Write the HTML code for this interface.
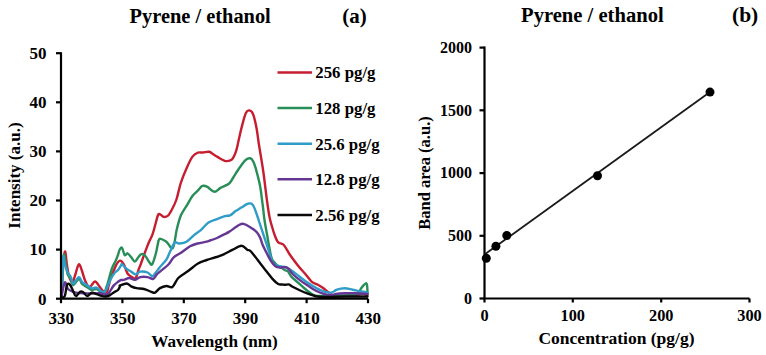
<!DOCTYPE html><html><head><meta charset="utf-8"><style>html,body{margin:0;padding:0;background:#fff;width:766px;height:355px;overflow:hidden}svg{display:block}</style></head><body><svg width="766" height="355" viewBox="0 0 766 355">
<rect width="766" height="355" fill="#fff"/>
<text x="200.2" y="22.6" font-family="Liberation Serif" font-weight="bold" font-size="20.4" text-anchor="middle">Pyrene / ethanol</text>
<text x="342.3" y="22.9" font-family="Liberation Serif" font-weight="bold" font-size="21">(a)</text>
<text x="592.4" y="22.2" font-family="Liberation Serif" font-weight="bold" font-size="20.6" text-anchor="middle">Pyrene / ethanol</text>
<text x="732" y="22.2" font-family="Liberation Serif" font-weight="bold" font-size="21.5">(b)</text>
<path d="M61.5,296.0 C61.8,290.3 62.9,269.4 63.5,262.0 C64.1,254.6 64.7,251.1 65.2,251.4 C65.8,251.7 66.2,260.2 66.8,264.0 C67.3,267.8 67.9,271.3 68.5,274.0 C69.1,276.7 69.8,278.6 70.5,280.0 C71.2,281.4 71.8,283.5 72.6,282.5 C73.4,281.5 74.5,277.0 75.5,274.0 C76.5,271.0 77.7,264.8 78.8,264.3 C79.9,263.8 81.0,268.3 82.0,271.0 C83.0,273.7 83.8,277.6 85.0,280.3 C86.2,283.0 87.8,286.8 89.5,287.0 C91.2,287.2 93.3,281.5 95.0,281.5 C96.7,281.5 98.3,285.2 99.8,287.0 C101.3,288.8 102.8,291.2 104.0,292.0 C105.2,292.8 106.2,293.0 107.0,292.0 C107.8,291.0 107.9,288.5 108.6,286.0 C109.3,283.5 110.1,279.8 111.0,277.1 C111.9,274.4 113.1,272.1 114.0,270.0 C114.9,267.9 115.5,265.9 116.5,264.3 C117.5,262.7 118.9,260.6 120.1,260.6 C121.3,260.6 122.6,262.2 123.8,264.3 C125.0,266.4 126.1,271.4 127.5,273.5 C128.9,275.6 130.6,276.4 132.0,277.1 C133.4,277.9 134.6,279.2 135.7,278.0 C136.8,276.8 137.8,271.8 138.5,269.8 C139.2,267.8 138.8,269.4 140.0,266.2 C141.2,263.0 144.1,254.7 145.6,250.7 C147.1,246.7 147.8,244.8 149.0,242.0 C150.2,239.2 151.5,237.1 152.7,233.8 C153.9,230.5 155.1,225.2 156.0,222.0 C156.9,218.8 157.5,215.7 158.3,214.5 C159.1,213.3 160.1,214.6 161.0,215.0 C161.9,215.4 162.7,216.8 163.9,216.9 C165.1,217.0 166.8,216.9 168.2,215.5 C169.6,214.1 171.0,211.2 172.4,208.5 C173.8,205.8 175.2,203.4 176.6,199.0 C178.0,194.6 179.3,187.4 181.0,182.3 C182.7,177.2 184.7,172.4 186.6,168.2 C188.5,164.0 190.4,159.5 192.3,156.9 C194.2,154.3 196.1,153.4 197.9,152.7 C199.7,152.0 201.1,152.7 203.0,152.5 C204.9,152.3 207.4,151.5 209.2,151.8 C210.9,152.1 212.1,153.7 213.5,154.5 C214.9,155.3 216.2,156.1 217.6,156.9 C219.0,157.7 220.6,158.8 222.0,159.5 C223.4,160.2 224.5,161.1 226.1,161.1 C227.7,161.1 230.0,161.3 231.7,159.7 C233.3,158.1 234.9,154.4 236.0,151.3 C237.1,148.2 237.5,145.3 238.5,141.0 C239.5,136.7 240.8,130.3 242.1,125.6 C243.3,120.9 244.8,115.3 246.0,112.8 C247.2,110.3 248.2,110.2 249.3,110.4 C250.5,110.6 251.7,110.9 252.9,113.8 C254.1,116.7 255.5,122.8 256.5,128.0 C257.5,133.2 258.1,139.3 259.0,145.0 C259.9,150.7 261.1,157.3 261.8,162.0 C262.6,166.7 262.6,166.7 263.5,173.0 C264.4,179.3 265.9,192.7 266.9,200.0 C267.9,207.3 268.6,212.3 269.5,217.0 C270.4,221.7 271.6,225.0 272.5,228.2 C273.4,231.4 274.1,233.7 275.0,236.0 C275.9,238.3 276.7,240.8 278.2,242.3 C279.7,243.8 281.8,242.9 283.8,245.0 C285.8,247.1 287.8,251.6 290.1,255.0 C292.4,258.4 295.2,262.0 297.7,265.2 C300.2,268.4 303.0,271.3 305.3,274.0 C307.6,276.7 309.5,279.8 311.6,281.6 C313.7,283.4 316.1,283.7 318.0,284.8 C319.9,285.9 321.2,286.6 323.1,288.0 C325.0,289.4 327.4,291.7 329.4,293.0 C331.4,294.3 333.2,295.5 335.0,296.0 C336.8,296.5 336.7,296.1 340.0,296.0 C343.3,295.9 351.2,295.9 355.0,295.5 C358.8,295.1 360.4,293.6 362.5,293.5 C364.6,293.4 366.7,294.8 367.5,295.0" fill="none" stroke="#C61E30" stroke-width="2.4" stroke-linejoin="round" stroke-linecap="round"/>
<path d="M61.5,296.0 C61.9,289.3 62.9,261.5 63.6,256.0 C64.3,250.5 64.8,260.0 65.5,263.0 C66.2,266.0 66.7,271.3 67.6,274.0 C68.5,276.7 70.0,277.2 70.9,279.0 C71.9,280.8 72.0,285.0 73.3,285.0 C74.6,285.0 77.4,279.2 78.9,279.0 C80.4,278.8 80.8,282.7 82.1,284.0 C83.4,285.3 85.3,286.0 86.9,287.0 C88.5,288.0 90.2,289.7 91.8,290.0 C93.4,290.3 95.0,288.6 96.6,289.0 C98.2,289.4 100.1,292.0 101.4,292.5 C102.7,293.0 103.7,292.9 104.5,292.0 C105.3,291.1 105.8,289.0 106.5,287.0 C107.2,285.0 107.7,283.4 108.6,280.2 C109.5,277.0 110.9,271.2 112.1,268.0 C113.3,264.8 114.6,263.2 115.6,261.0 C116.6,258.8 117.3,256.8 118.0,255.0 C118.7,253.2 118.8,251.2 119.5,250.0 C120.2,248.8 121.1,247.0 122.0,247.8 C122.9,248.7 123.8,254.2 124.7,255.1 C125.6,256.0 126.4,253.0 127.5,253.3 C128.6,253.6 129.9,255.6 131.1,257.0 C132.3,258.4 133.6,261.6 134.8,261.6 C136.0,261.6 137.4,258.2 138.5,257.0 C139.6,255.8 140.1,254.4 141.2,254.2 C142.3,253.9 143.6,254.1 145.0,255.5 C146.4,256.9 148.3,261.0 149.5,262.5 C150.7,264.0 151.1,265.8 152.2,264.3 C153.3,262.8 154.8,257.3 155.9,253.3 C157.0,249.3 157.8,242.9 158.6,240.5 C159.4,238.1 159.2,238.7 160.5,238.9 C161.8,239.1 164.3,240.3 166.4,241.8 C168.5,243.3 171.2,250.1 172.9,248.0 C174.6,245.9 175.5,234.7 176.8,229.3 C178.1,223.9 179.2,219.4 180.8,215.5 C182.5,211.6 184.7,208.9 186.7,205.6 C188.7,202.3 190.6,198.4 192.6,195.8 C194.6,193.2 196.8,191.6 198.5,189.9 C200.2,188.2 201.0,186.4 202.5,185.9 C204.0,185.4 205.4,185.9 207.4,186.9 C209.4,187.9 212.1,191.6 214.3,191.8 C216.5,192.0 218.1,189.2 220.5,187.9 C222.9,186.6 226.8,185.3 228.9,183.7 C231.0,182.0 231.6,180.1 233.0,178.0 C234.4,175.9 236.0,173.2 237.4,171.0 C238.8,168.8 240.1,166.9 241.5,165.0 C242.9,163.1 244.5,160.8 245.9,159.7 C247.3,158.6 248.9,158.1 250.1,158.3 C251.3,158.5 252.1,159.3 253.0,161.0 C253.9,162.7 254.5,164.2 255.7,168.2 C256.8,172.2 258.7,179.0 259.9,185.1 C261.1,191.2 261.9,199.2 262.7,205.0 C263.5,210.8 263.8,215.2 264.5,220.0 C265.2,224.8 265.8,227.8 266.9,233.8 C268.0,239.9 269.9,251.6 271.1,256.3 C272.3,261.0 272.8,260.4 274.0,262.0 C275.2,263.6 276.9,265.2 278.2,266.2 C279.5,267.2 280.9,267.3 282.0,268.0 C283.1,268.7 284.0,269.6 285.0,270.2 C286.0,270.8 286.9,270.4 288.0,271.5 C289.1,272.6 289.7,274.8 291.3,276.6 C292.9,278.4 295.6,280.4 297.7,282.3 C299.8,284.2 301.9,286.2 304.0,288.0 C306.1,289.8 308.5,291.7 310.4,293.0 C312.3,294.3 312.2,295.1 315.5,295.6 C318.8,296.1 325.1,296.0 330.0,296.0 C334.9,296.0 340.7,295.8 345.0,295.5 C349.3,295.2 353.6,295.2 356.0,294.5 C358.4,293.8 358.6,292.3 359.5,291.2 C360.4,290.1 360.4,289.1 361.5,287.8 C362.6,286.5 365.4,283.0 366.4,283.3 C367.4,283.6 367.2,287.9 367.4,289.7 C367.6,291.5 367.5,293.3 367.5,294.0" fill="none" stroke="#288E57" stroke-width="2.4" stroke-linejoin="round" stroke-linecap="round"/>
<path d="M61.5,296.0 C61.8,289.7 62.7,263.5 63.2,258.0 C63.7,252.5 63.8,260.6 64.5,263.0 C65.2,265.4 66.5,269.9 67.6,272.3 C68.7,274.7 70.0,275.3 70.9,277.2 C71.9,279.1 72.0,283.6 73.3,283.6 C74.6,283.6 77.4,277.5 78.9,277.2 C80.4,276.9 80.8,280.7 82.1,282.0 C83.4,283.3 85.3,284.1 86.9,285.2 C88.5,286.3 90.2,288.0 91.8,288.4 C93.4,288.8 95.0,287.1 96.6,287.6 C98.2,288.1 100.1,290.9 101.4,291.6 C102.7,292.3 103.7,292.4 104.5,292.0 C105.3,291.6 105.8,290.4 106.5,289.0 C107.2,287.6 107.7,285.8 108.6,283.7 C109.5,281.6 111.0,278.6 112.1,276.7 C113.2,274.8 114.0,273.6 115.0,272.5 C116.0,271.4 117.0,271.2 118.0,270.0 C119.0,268.8 120.3,266.4 121.0,265.5 C121.7,264.6 121.1,263.7 122.0,264.3 C122.9,264.9 125.1,267.7 126.6,268.9 C128.1,270.1 129.6,270.7 131.1,271.6 C132.6,272.5 134.2,274.4 135.7,274.4 C137.2,274.4 138.3,271.9 140.3,271.6 C142.3,271.3 145.6,271.7 147.6,272.5 C149.6,273.3 151.0,276.0 152.2,276.2 C153.4,276.4 153.7,275.0 155.0,273.5 C156.3,272.0 158.1,269.3 160.0,267.0 C161.9,264.7 164.7,262.1 166.4,259.6 C168.1,257.1 168.6,254.6 170.0,251.8 C171.4,249.0 173.1,244.0 174.6,242.6 C176.1,241.2 177.2,243.7 179.2,243.5 C181.2,243.3 184.1,243.1 186.5,241.7 C188.9,240.3 191.4,237.3 193.8,235.3 C196.2,233.3 198.7,231.9 201.1,229.8 C203.5,227.7 205.8,224.3 208.5,222.5 C211.2,220.7 214.9,219.9 217.6,218.8 C220.3,217.7 222.8,216.7 224.9,216.1 C227.0,215.5 228.2,216.2 230.0,215.4 C231.8,214.6 233.7,212.4 235.6,211.1 C237.5,209.8 239.4,208.8 241.3,207.6 C243.2,206.4 245.4,204.8 246.9,204.1 C248.4,203.4 249.4,203.2 250.4,203.4 C251.4,203.6 252.2,204.0 253.2,205.5 C254.1,207.0 255.2,209.9 256.1,212.5 C257.1,215.1 258.0,218.2 258.9,221.0 C259.8,223.8 260.8,226.6 261.7,229.4 C262.6,232.2 263.4,234.5 264.5,237.9 C265.6,241.3 267.2,246.0 268.5,250.0 C269.8,254.0 271.1,259.4 272.5,262.0 C273.9,264.6 274.6,264.6 277.0,265.5 C279.4,266.4 283.6,266.3 286.6,267.6 C289.6,268.9 291.8,270.9 295.1,273.2 C298.4,275.5 302.1,278.9 306.3,281.7 C310.5,284.5 316.3,288.3 320.4,290.1 C324.5,291.9 328.2,292.8 330.9,292.7 C333.6,292.6 334.5,290.4 336.8,289.7 C339.1,288.9 342.1,288.2 344.7,288.2 C347.3,288.2 350.1,289.2 352.6,289.7 C355.1,290.2 357.2,290.8 359.5,291.2 C361.8,291.6 365.1,291.9 366.4,292.2 C367.7,292.5 367.3,292.9 367.5,293.0" fill="none" stroke="#309CC8" stroke-width="2.4" stroke-linejoin="round" stroke-linecap="round"/>
<path d="M61.5,297.0 C62.0,294.6 63.7,283.8 64.8,282.5 C65.9,281.2 66.5,287.4 68.0,289.0 C69.5,290.6 71.8,291.5 73.8,292.2 C75.8,292.9 77.8,292.8 80.0,293.0 C82.2,293.2 84.8,293.4 87.0,293.5 C89.2,293.6 90.9,293.6 93.0,293.5 C95.1,293.4 97.8,293.0 99.8,293.2 C101.8,293.4 103.6,294.4 105.0,294.5 C106.4,294.6 107.1,294.6 108.0,294.0 C108.9,293.4 109.4,292.0 110.4,290.6 C111.4,289.2 112.5,286.9 113.8,285.4 C115.1,283.9 116.8,282.7 118.0,281.8 C119.2,280.9 120.0,280.3 121.0,280.0 C122.0,279.7 122.4,280.2 123.8,279.9 C125.2,279.6 127.5,278.0 129.3,278.0 C131.1,278.0 133.0,280.0 134.8,279.9 C136.6,279.8 138.2,277.6 140.3,277.1 C142.4,276.6 145.5,276.8 147.6,277.1 C149.7,277.4 151.6,279.4 153.1,279.0 C154.6,278.6 155.7,275.6 156.8,274.4 C158.0,273.2 158.1,273.2 160.0,271.6 C161.9,270.0 166.1,266.9 168.4,264.5 C170.7,262.1 171.6,259.3 173.7,257.3 C175.8,255.3 178.3,254.5 181.0,252.7 C183.7,250.9 187.3,247.8 190.1,246.3 C192.8,244.8 194.8,244.3 197.5,243.5 C200.2,242.7 204.5,242.2 206.6,241.7 C208.7,241.2 208.5,241.0 210.0,240.5 C211.5,240.0 214.0,239.2 215.8,238.5 C217.6,237.8 218.8,237.0 220.6,236.2 C222.3,235.3 224.7,234.2 226.3,233.4 C227.9,232.6 228.4,232.2 230.0,231.2 C231.6,230.2 234.1,228.3 235.6,227.3 C237.1,226.3 237.8,225.6 239.0,225.0 C240.2,224.4 241.4,223.8 242.7,223.8 C244.0,223.8 245.3,224.4 246.9,225.2 C248.5,226.0 250.8,227.5 252.5,228.7 C254.2,229.9 255.5,230.8 256.8,232.3 C258.1,233.8 259.4,235.9 260.3,237.9 C261.2,239.9 261.4,241.9 262.5,244.5 C263.6,247.1 265.5,250.8 266.9,253.5 C268.3,256.2 269.6,258.9 271.0,261.0 C272.4,263.1 273.9,265.1 275.4,266.2 C276.9,267.3 278.4,267.4 280.0,267.5 C281.6,267.6 283.5,266.8 285.0,267.0 C286.5,267.2 287.5,267.8 288.8,269.0 C290.1,270.2 290.7,272.1 292.6,274.0 C294.5,275.9 297.7,278.5 300.2,280.4 C302.7,282.3 305.2,283.8 307.8,285.5 C310.4,287.2 312.9,289.1 315.5,290.5 C318.1,291.9 320.6,292.9 323.1,293.7 C325.6,294.5 328.6,295.3 330.7,295.4 C332.8,295.4 333.6,294.4 336.0,294.0 C338.4,293.6 341.8,293.4 345.0,293.3 C348.2,293.2 351.2,293.2 355.0,293.3 C358.8,293.4 365.4,293.9 367.5,294.0" fill="none" stroke="#653694" stroke-width="2.4" stroke-linejoin="round" stroke-linecap="round"/>
<path d="M61.5,298.0 C62.0,297.7 64.0,297.8 64.8,296.0 C65.6,294.2 66.0,289.1 66.5,287.0 C67.0,284.9 67.4,283.9 68.1,283.7 C68.8,283.4 69.6,284.1 70.5,285.5 C71.4,286.9 72.6,290.2 73.5,292.0 C74.4,293.8 74.8,296.1 76.0,296.0 C77.2,295.9 79.2,292.1 80.5,291.5 C81.8,290.9 82.4,291.8 83.5,292.5 C84.6,293.2 85.9,296.0 87.3,296.0 C88.7,296.0 90.3,293.0 91.8,292.7 C93.3,292.4 94.8,293.6 96.4,294.1 C98.1,294.6 100.3,295.5 101.7,295.9 C103.1,296.3 103.8,296.5 105.0,296.5 C106.2,296.5 107.1,296.6 108.6,295.9 C110.1,295.2 112.2,293.4 113.8,292.4 C115.4,291.4 117.0,291.1 118.0,290.0 C119.0,288.9 119.8,286.8 120.1,286.0 C120.4,285.2 119.0,285.8 120.1,285.4 C121.2,285.0 124.8,283.4 126.6,283.5 C128.4,283.6 129.4,285.5 131.1,286.3 C132.8,287.1 134.4,287.7 136.6,288.1 C138.8,288.6 141.6,288.4 144.0,289.0 C146.4,289.6 149.5,291.2 151.3,291.8 C153.1,292.4 153.6,293.3 155.0,292.7 C156.4,292.1 158.1,289.2 160.0,288.1 C161.9,287.0 164.3,286.2 166.4,286.0 C168.5,285.8 170.4,288.3 172.4,287.0 C174.4,285.7 175.7,280.7 178.3,278.0 C180.9,275.3 184.8,273.4 188.1,271.0 C191.4,268.6 194.9,265.3 198.0,263.5 C201.1,261.7 202.7,261.4 206.6,260.0 C210.5,258.6 217.0,257.1 221.3,255.4 C225.6,253.7 229.0,251.5 232.3,249.9 C235.7,248.3 238.9,245.8 241.4,245.8 C243.9,245.8 245.9,248.9 247.3,249.7 C248.7,250.5 248.7,249.6 250.0,250.7 C251.3,251.8 253.1,254.2 255.0,256.5 C256.9,258.9 259.3,262.2 261.3,264.8 C263.3,267.4 265.1,269.6 267.0,272.0 C268.9,274.4 270.6,276.9 272.5,278.9 C274.4,280.9 276.6,283.1 278.2,284.0 C279.8,284.9 280.9,284.4 282.0,284.5 C283.1,284.6 283.9,284.8 285.0,284.8 C286.1,284.8 287.5,284.1 288.8,284.4 C290.1,284.7 290.7,285.7 292.6,286.7 C294.5,287.7 297.7,289.3 300.2,290.5 C302.7,291.7 305.2,292.8 307.8,293.7 C310.4,294.6 312.6,295.6 315.5,296.2 C318.4,296.8 320.1,296.9 325.0,297.0 C329.9,297.1 337.9,296.6 345.0,296.5 C352.1,296.4 363.8,296.5 367.5,296.5" fill="none" stroke="#0a0a0a" stroke-width="2.4" stroke-linejoin="round" stroke-linecap="round"/>
<path d="M61,52.2 V298.7 H368" fill="none" stroke="#000" stroke-width="2.2"/>
<line x1="56" y1="298.7" x2="61" y2="298.7" stroke="#000" stroke-width="2.2"/>
<text x="46.5" y="304.5" font-family="Liberation Serif" font-weight="bold" font-size="17" text-anchor="end">0</text>
<line x1="56" y1="249.6" x2="61" y2="249.6" stroke="#000" stroke-width="2.2"/>
<text x="46.5" y="255.4" font-family="Liberation Serif" font-weight="bold" font-size="17" text-anchor="end">10</text>
<line x1="56" y1="200.5" x2="61" y2="200.5" stroke="#000" stroke-width="2.2"/>
<text x="46.5" y="206.3" font-family="Liberation Serif" font-weight="bold" font-size="17" text-anchor="end">20</text>
<line x1="56" y1="151.4" x2="61" y2="151.4" stroke="#000" stroke-width="2.2"/>
<text x="46.5" y="157.2" font-family="Liberation Serif" font-weight="bold" font-size="17" text-anchor="end">30</text>
<line x1="56" y1="102.3" x2="61" y2="102.3" stroke="#000" stroke-width="2.2"/>
<text x="46.5" y="108.1" font-family="Liberation Serif" font-weight="bold" font-size="17" text-anchor="end">40</text>
<line x1="56" y1="53.2" x2="61" y2="53.2" stroke="#000" stroke-width="2.2"/>
<text x="46.5" y="59.0" font-family="Liberation Serif" font-weight="bold" font-size="17" text-anchor="end">50</text>
<line x1="61.0" y1="298.7" x2="61.0" y2="303.2" stroke="#000" stroke-width="2.2"/>
<text x="61.3" y="324.2" font-family="Liberation Serif" font-weight="bold" font-size="17" text-anchor="middle">330</text>
<line x1="122.4" y1="298.7" x2="122.4" y2="303.2" stroke="#000" stroke-width="2.2"/>
<text x="122.7" y="324.2" font-family="Liberation Serif" font-weight="bold" font-size="17" text-anchor="middle">350</text>
<line x1="183.8" y1="298.7" x2="183.8" y2="303.2" stroke="#000" stroke-width="2.2"/>
<text x="184.1" y="324.2" font-family="Liberation Serif" font-weight="bold" font-size="17" text-anchor="middle">370</text>
<line x1="245.2" y1="298.7" x2="245.2" y2="303.2" stroke="#000" stroke-width="2.2"/>
<text x="245.5" y="324.2" font-family="Liberation Serif" font-weight="bold" font-size="17" text-anchor="middle">390</text>
<line x1="306.6" y1="298.7" x2="306.6" y2="303.2" stroke="#000" stroke-width="2.2"/>
<text x="306.9" y="324.2" font-family="Liberation Serif" font-weight="bold" font-size="17" text-anchor="middle">410</text>
<line x1="368.0" y1="298.7" x2="368.0" y2="303.2" stroke="#000" stroke-width="2.2"/>
<text x="368.3" y="324.2" font-family="Liberation Serif" font-weight="bold" font-size="17" text-anchor="middle">430</text>
<text x="214.5" y="346.5" font-family="Liberation Serif" font-weight="bold" font-size="17.2" text-anchor="middle">Wavelength (nm)</text>
<text transform="translate(19.7,175.5) rotate(-90)" font-family="Liberation Serif" font-weight="bold" font-size="17" text-anchor="middle">Intensity (a.u.)</text>
<line x1="277.5" y1="72.5" x2="312" y2="72.5" stroke="#C61E30" stroke-width="2.5"/>
<text x="315.3" y="78.2" font-family="Liberation Serif" font-weight="bold" font-size="16.8">256 pg/g</text>
<line x1="277.5" y1="108.1" x2="312" y2="108.1" stroke="#288E57" stroke-width="2.5"/>
<text x="315.3" y="113.8" font-family="Liberation Serif" font-weight="bold" font-size="16.8">128 pg/g</text>
<line x1="277.5" y1="143.8" x2="312" y2="143.8" stroke="#309CC8" stroke-width="2.5"/>
<text x="315.3" y="149.5" font-family="Liberation Serif" font-weight="bold" font-size="16.8">25.6 pg/g</text>
<line x1="277.5" y1="179.3" x2="312" y2="179.3" stroke="#653694" stroke-width="2.5"/>
<text x="315.3" y="185.0" font-family="Liberation Serif" font-weight="bold" font-size="16.8">12.8 pg/g</text>
<line x1="277.5" y1="214.9" x2="312" y2="214.9" stroke="#0a0a0a" stroke-width="2.5"/>
<text x="315.3" y="220.6" font-family="Liberation Serif" font-weight="bold" font-size="16.8">2.56 pg/g</text>
<path d="M484.5,46.6 V298.5 H749.5" fill="none" stroke="#000" stroke-width="2.2"/>
<line x1="479.5" y1="298.5" x2="484.5" y2="298.5" stroke="#000" stroke-width="2.2"/>
<text x="472" y="303.7" font-family="Liberation Serif" font-weight="bold" font-size="16" text-anchor="end">0</text>
<line x1="479.5" y1="235.8" x2="484.5" y2="235.8" stroke="#000" stroke-width="2.2"/>
<text x="472" y="241.0" font-family="Liberation Serif" font-weight="bold" font-size="16" text-anchor="end">500</text>
<line x1="479.5" y1="173.1" x2="484.5" y2="173.1" stroke="#000" stroke-width="2.2"/>
<text x="472" y="178.2" font-family="Liberation Serif" font-weight="bold" font-size="16" text-anchor="end">1000</text>
<line x1="479.5" y1="110.3" x2="484.5" y2="110.3" stroke="#000" stroke-width="2.2"/>
<text x="472" y="115.5" font-family="Liberation Serif" font-weight="bold" font-size="16" text-anchor="end">1500</text>
<line x1="479.5" y1="47.6" x2="484.5" y2="47.6" stroke="#000" stroke-width="2.2"/>
<text x="472" y="52.8" font-family="Liberation Serif" font-weight="bold" font-size="16" text-anchor="end">2000</text>
<line x1="484.5" y1="298.5" x2="484.5" y2="302.5" stroke="#000" stroke-width="2.2"/>
<text x="484.5" y="321.2" font-family="Liberation Serif" font-weight="bold" font-size="16.3" text-anchor="middle">0</text>
<line x1="572.8" y1="298.5" x2="572.8" y2="302.5" stroke="#000" stroke-width="2.2"/>
<text x="572.8" y="321.2" font-family="Liberation Serif" font-weight="bold" font-size="16.3" text-anchor="middle">100</text>
<line x1="661.2" y1="298.5" x2="661.2" y2="302.5" stroke="#000" stroke-width="2.2"/>
<text x="661.2" y="321.2" font-family="Liberation Serif" font-weight="bold" font-size="16.3" text-anchor="middle">200</text>
<line x1="749.5" y1="298.5" x2="749.5" y2="302.5" stroke="#000" stroke-width="2.2"/>
<text x="749.5" y="321.2" font-family="Liberation Serif" font-weight="bold" font-size="16.3" text-anchor="middle">300</text>
<text x="616.5" y="343.5" font-family="Liberation Serif" font-weight="bold" font-size="17.5" text-anchor="middle">Concentration (pg/g)</text>
<text transform="translate(430.2,173) rotate(-90)" font-family="Liberation Serif" font-weight="bold" font-size="16.55" text-anchor="middle">Band area (a.u.)</text>
<line x1="484.5" y1="254.5" x2="710" y2="92.1" stroke="#1a1a1a" stroke-width="1.8"/>
<circle cx="486.3" cy="258.3" r="4.5" fill="#000"/>
<circle cx="495.9" cy="246.3" r="4.5" fill="#000"/>
<circle cx="506.8" cy="235.5" r="4.5" fill="#000"/>
<circle cx="597.5" cy="175.8" r="4.5" fill="#000"/>
<circle cx="710" cy="92.1" r="4.5" fill="#000"/>
</svg></body></html>
